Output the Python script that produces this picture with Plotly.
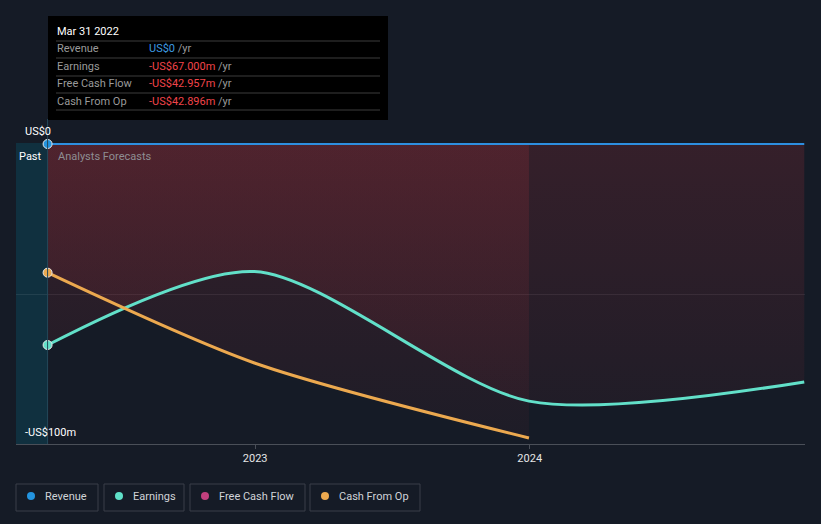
import plotly.graph_objects as go

# ---------------- data ----------------
dates = ["2022-03-31", "2022-12-31", "2023-12-31", "2024-12-31"]
revenue = [0, 0, 0, 0]
earnings = [-67.0, -42.5, -85.7, -79.3]
cfo_dates = ["2022-03-31", "2022-12-31", "2023-12-31"]
cash_from_op = [-42.896, -73.0, -98.0]

tick_vals = ["2023-01-01", "2024-01-01"]
tick_text = ["2023", "2024"]
y_labels = ["US$0", "-US$100m"]

tooltip_title = "Mar 31 2022"
tooltip_rows = [
    ("Revenue", "US$0", "#3d9be0"),
    ("Earnings", "-US$67.000m", "#f0444a"),
    ("Free Cash Flow", "-US$42.957m", "#f0444a"),
    ("Cash From Op", "-US$42.896m", "#f0444a"),
]
legend_items = [
    ("Revenue", "#2394df"),
    ("Earnings", "#5fe0c8"),
    ("Free Cash Flow", "#c2407e"),
    ("Cash From Op", "#eca94f"),
]

# ---------------- layout geometry ----------------
W, H = 821, 524
L, R, T, B = 16, 16, 143, 80
PW = W - L - R
PH = H - T - B
BG = "#151b26"
FONT = "Roboto, sans-serif"
SMOOTH = 0.8


def px_x(px):
    return (px - L) / PW


def px_y(py):
    return (H - B - py) / PH


EARN = "#62e0c9"
CFO = "#eca94f"
REV = "#2d8fe0"

grad = dict(type="vertical", start=-100, stop=0,
            colorscale=[[0, "rgba(190,50,60,0.05)"], [1, "rgba(190,50,60,0.19)"]])

fig = go.Figure()

# fills
fig.add_trace(go.Scatter(x=dates, y=earnings, mode="lines", line=dict(width=0, shape="spline", smoothing=SMOOTH),
                         fill="tozeroy", fillgradient=grad, hoverinfo="skip", showlegend=False))
fig.add_trace(go.Scatter(x=cfo_dates, y=cash_from_op, mode="lines", line=dict(width=0, shape="spline", smoothing=SMOOTH),
                         fill="tozeroy", fillgradient=grad, hoverinfo="skip", showlegend=False))

# lines
fig.add_trace(go.Scatter(x=dates, y=revenue, mode="lines", line=dict(color=REV, width=2),
                         showlegend=False, cliponaxis=False))
fig.add_trace(go.Scatter(x=dates, y=earnings, mode="lines",
                         line=dict(color=EARN, width=3, shape="spline", smoothing=SMOOTH), showlegend=False))
fig.add_trace(go.Scatter(x=cfo_dates, y=cash_from_op, mode="lines",
                         line=dict(color=CFO, width=3, shape="spline", smoothing=SMOOTH), showlegend=False))

# start markers
for yv, col in [(revenue[0], "#2394df"), (earnings[0], EARN), (cash_from_op[0], CFO)]:
    fig.add_trace(go.Scatter(x=[dates[0]], y=[yv], mode="markers", cliponaxis=False,
                             marker=dict(color=col, size=9, line=dict(color="#e8e8e8", width=1)),
                             showlegend=False))

shapes = []
annotations = []

# past band
shapes.append(dict(type="rect", xref="x", yref="paper", x0="2022-02-17", x1=dates[0], y0=0, y1=1,
                   fillcolor="#10303f", line=dict(width=0), layer="below"))
shapes.append(dict(type="line", xref="x", yref="paper", x0=dates[0], x1=dates[0], y0=0, y1=px_y(119),
                   line=dict(color="#24485a", width=1)))

annotations.append(dict(text="Past", xref="paper", yref="paper", x=px_x(17), y=px_y(156),
                        xanchor="left", yanchor="middle", showarrow=False,
                        font=dict(color="#ffffff", size=11, family=FONT)))
annotations.append(dict(text="Analysts Forecasts", xref="paper", yref="paper", x=px_x(56), y=px_y(156),
                        xanchor="left", yanchor="middle", showarrow=False,
                        font=dict(color="#8e8e93", size=11, family=FONT)))

# y labels
annotations.append(dict(text=y_labels[0], xref="paper", yref="paper", x=px_x(23), y=px_y(131),
                        xanchor="left", yanchor="middle", showarrow=False,
                        font=dict(color="#ffffff", size=11, family=FONT)))
annotations.append(dict(text=y_labels[1], xref="paper", yref="paper", x=px_x(23), y=px_y(432),
                        xanchor="left", yanchor="middle", showarrow=False,
                        font=dict(color="#ffffff", size=11, family=FONT)))

# tooltip
shapes.append(dict(type="rect", xref="paper", yref="paper", x0=px_x(48), x1=px_x(388),
                   y0=px_y(120), y1=px_y(16), fillcolor="#000000", line=dict(width=0)))
annotations.append(dict(text=tooltip_title, xref="paper", yref="paper", x=px_x(55), y=px_y(31),
                        xanchor="left", yanchor="middle", showarrow=False,
                        font=dict(color="#ffffff", size=11, family=FONT)))
sep_y = [41, 58, 76, 93, 110]
for py in sep_y:
    shapes.append(dict(type="line", xref="paper", yref="paper", x0=px_x(56), x1=px_x(380),
                       y0=px_y(py), y1=px_y(py), line=dict(color="#3c3c3c", width=1)))
row_y = [49, 66, 84, 101]
for (lab, val, col), py in zip(tooltip_rows, row_y):
    annotations.append(dict(text=lab, xref="paper", yref="paper", x=px_x(55), y=px_y(py),
                            xanchor="left", yanchor="middle", showarrow=False,
                            font=dict(color="#9a9a9a", size=11, family=FONT)))
    annotations.append(dict(text=f"<span style='color:{col}'>{val}</span> /yr", xref="paper", yref="paper",
                            x=px_x(147), y=px_y(py), xanchor="left", yanchor="middle", showarrow=False,
                            font=dict(color="#9a9a9a", size=11, family=FONT)))

# legend boxes
box_x = [(16, 98), (104, 184), (190, 305), (310, 420)]
for (lab, col), (x0, x1) in zip(legend_items, box_x):
    shapes.append(dict(type="rect", xref="paper", yref="paper", x0=px_x(x0), x1=px_x(x1),
                       y0=px_y(511), y1=px_y(484), fillcolor=BG, line=dict(color="#3a3f48", width=1)))
    shapes.append(dict(type="circle", xref="paper", yref="paper", x0=px_x(x0 + 11), x1=px_x(x0 + 19),
                       y0=px_y(500), y1=px_y(492), fillcolor=col, line=dict(width=0)))
    annotations.append(dict(text=lab, xref="paper", yref="paper", x=px_x(x0 + 27), y=px_y(496),
                            xanchor="left", yanchor="middle", showarrow=False,
                            font=dict(color="#d0d3d8", size=11, family=FONT)))

fig.update_layout(
    width=W, height=H,
    margin=dict(l=L, r=R, t=T, b=B),
    paper_bgcolor=BG, plot_bgcolor=BG,
    showlegend=False,
    shapes=shapes, annotations=annotations,
    font=dict(family=FONT),
    hovermode=False,
    xaxis=dict(range=["2022-02-17", "2025-01-01"], type="date", tickvals=tick_vals, ticktext=tick_text,
               ticks="outside", ticklen=4, tickcolor="#4a4f58", showgrid=False, showline=True,
               linecolor="#4a4f58", linewidth=1, tickfont=dict(color="#e6e6e6", size=11, family=FONT),
               zeroline=False, fixedrange=True),
    yaxis=dict(range=[-100, 0.33], tickvals=[-50], showticklabels=False, showgrid=True,
               gridcolor="rgba(255,255,255,0.08)", zeroline=False, fixedrange=True),
)

fig.write_html("out.html")
